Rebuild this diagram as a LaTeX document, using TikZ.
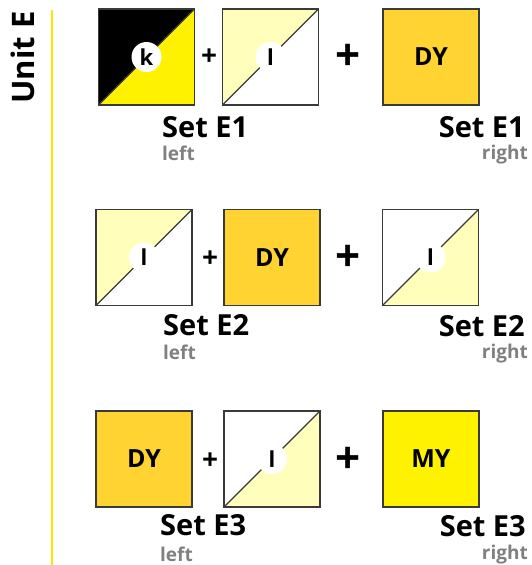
\documentclass[tikz,border=0pt]{standalone}
\usepackage{fontspec}
\setmainfont{Open Sans}
\usepackage{xcolor}
\usetikzlibrary{positioning}

\definecolor{tileline}{HTML}{3A3A3A}
\definecolor{keyyellow}{HTML}{FFF200}
\definecolor{lightyellow}{HTML}{FFFFBB}
\definecolor{darkyellow}{HTML}{FFD332}
\definecolor{sidegray}{HTML}{808080}
\definecolor{unitline}{HTML}{FFE600}

\tikzset{
  tile/.style={draw=tileline, line width=1.2pt, minimum size=96pt, inner sep=0pt,
    font=\bfseries\fontsize{25}{25}\selectfont},
  halftile/.style 2 args={tile, font=\bfseries\fontsize{22}{22}\selectfont,
    path picture={
      \fill[#1] (path picture bounding box.north west) -- (path picture bounding box.north east)
        -- (path picture bounding box.south west) -- cycle;
      \fill[#2] (path picture bounding box.north east) -- (path picture bounding box.south east)
        -- (path picture bounding box.south west) -- cycle;
      \draw[tileline, line width=1.2pt] (path picture bounding box.south west)
        -- (path picture bounding box.north east);
      \fill[white] (path picture bounding box.center) circle (15pt);}},
  smallplus/.style={font=\bfseries\fontsize{28}{28}\selectfont, inner sep=0pt},
  bigplus/.style={font=\bfseries\fontsize{44}{44}\selectfont, inner sep=0pt},
  setname/.style={font=\bfseries\fontsize{29}{29}\selectfont, inner sep=0pt},
  side/.style={font=\bfseries\fontsize{19}{19}\selectfont, text=sidegray, inner sep=0pt}
}

\begin{document}
\begin{tikzpicture}[x=1pt, y=-1pt]
  \useasboundingbox (0,0) rectangle (532,565);

  \node[font=\bfseries\fontsize{31}{31}\selectfont, rotate=90, inner sep=0pt] (unit) at (23,57.5) {Unit E};
  \coordinate (linetop) at (52,10);
  \coordinate (linebot) at (52,565);
  \draw[unitline, line width=2pt] (linetop) -- (linebot);

  % Set E1
  \node[halftile={black}{keyyellow}, text=black] (e1a) at (146.5,57) {k};
  \node[halftile={lightyellow}{white}] (e1b) at (270.5,57) {l};
  \node[tile, fill=darkyellow] (e1c) at (431,57) {DY};
  \node[smallplus] (p1a) at (209,57) {+};
  \node[bigplus] (p1b) at (348,57) {+};
  \node[setname, anchor=base west] (e1l) at (162,137) {Set E1};
  \node[side, anchor=base west] (e1ls) at (162,160) {left};
  \node[setname, anchor=base east] (e1r) at (525,137) {Set E1};
  \node[side, anchor=base east] (e1rs) at (528,159) {right};

  % Set E2
  \node[halftile={lightyellow}{white}] (e2a) at (144,257.5) {l};
  \node[tile, fill=darkyellow] (e2b) at (272,257.5) {DY};
  \node[halftile={white}{lightyellow}] (e2c) at (430.5,257.5) {l};
  \node[smallplus] (p2a) at (210,259) {+};
  \node[bigplus] (p2b) at (348,258) {+};
  \node[setname, anchor=base west] (e2l) at (163,335) {Set E2};
  \node[side, anchor=base west] (e2ls) at (163,359) {left};
  \node[setname, anchor=base east] (e2r) at (525,336) {Set E2};
  \node[side, anchor=base east] (e2rs) at (528,358) {right};

  % Set E3
  \node[tile, fill=darkyellow] (e3a) at (144,459) {DY};
  \node[halftile={white}{lightyellow}] (e3b) at (272,459) {l};
  \node[tile, fill=keyyellow] (e3c) at (431,459) {MY};
  \node[smallplus] (p3a) at (210,461) {+};
  \node[bigplus] (p3b) at (348,460) {+};
  \node[setname, anchor=base west] (e3l) at (160,535) {Set E3};
  \node[side, anchor=base west] (e3ls) at (160,561) {left};
  \node[setname, anchor=base east] (e3r) at (526,536) {Set E3};
  \node[side, anchor=base east] (e3rs) at (528,559) {right};
\end{tikzpicture}
\end{document}
